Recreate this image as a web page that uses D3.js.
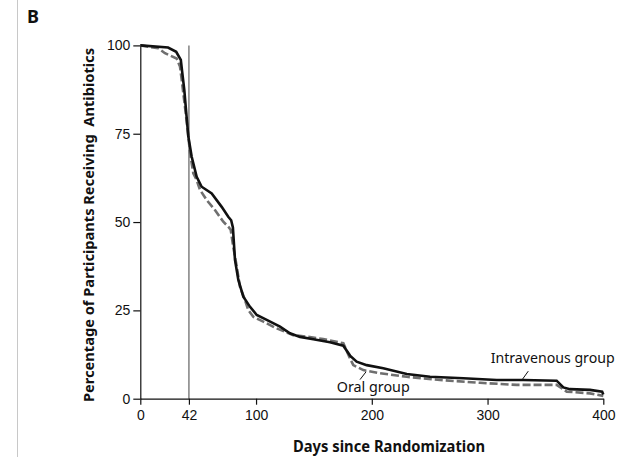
<!DOCTYPE html>
<html>
<head>
<meta charset="utf-8">
<script src="https://cdn.jsdelivr.net/npm/d3@7"></script>
<style>
  body { margin: 0; background: #fff; }
  svg { display: block; font-family: "Noto Sans", sans-serif; }
  .tick text { font-size: 14px; fill: #111; }
  .tick line, .domain { stroke: #111; }
</style>
</head>
<body>
<div id="km-chart"></div>
<script>
// Data (Kaplan-Meier style curves)
const ivDays = [0, 24, 31, 35, 36, 38, 40, 41.5, 44.4, 48.7, 53, 61.7, 70.3, 76, 78.5, 80, 81.8, 84.7, 89, 94.8, 100.6, 109.2, 120.7, 129.3, 138, 149.5, 163.9, 175.4, 181.2, 186.9, 195.6, 209.9, 230.2, 250.3, 279.1, 307.9, 330.9, 359.7, 365.5, 371.2, 388.5, 399, 400];
const ivPct = [100, 99.4, 98.2, 95.9, 93, 87.4, 79.8, 74.2, 68.5, 62.8, 60, 58.1, 54.3, 51.5, 50.5, 48.5, 39.3, 33.6, 28.9, 26, 23.7, 22.3, 20.4, 18.5, 17.5, 16.8, 16.0, 15.0, 12.2, 10.5, 9.5, 8.6, 7.0, 6.2, 5.8, 5.3, 5.3, 5.1, 3.2, 2.7, 2.5, 2.0, 1.2];

const oralDays = [0, 15.6, 21.3, 31.4, 34.3, 35.8, 38.6, 40.9, 43, 45.8, 48.7, 51.6, 57.4, 64.5, 71.7, 76, 78.1, 80.3, 83.3, 86.1, 90.5, 93.3, 97.6, 106.3, 117.8, 132.2, 145, 158, 175.4, 181.2, 184, 192.7, 207.1, 230.2, 259, 293.5, 325.2, 359.7, 368.4, 388.5, 400];
const oralPct = [100, 99.2, 97.8, 96.3, 94, 90.2, 82.6, 76.1, 69.5, 63.8, 61.9, 59.1, 56.2, 53.4, 50.1, 48.7, 47.8, 43, 37.4, 31.7, 27.9, 25.1, 23.2, 21.8, 19.9, 18.0, 17.5, 16.9, 15.7, 11.4, 9.5, 8.1, 7.2, 6.2, 5.3, 4.5, 3.9, 3.9, 2.0, 1.5, 0.8];

const xTicks = [0, 42, 100, 200, 300, 400];
const yTicks = [0, 25, 50, 75, 100];
const landmarkDay = 42;

const width = 628;
const height = 457;

const svg = d3.select("#km-chart")
    .append("svg")
    .attr("width", width)
    .attr("height", height);

// plot area in pixels
const xScale = d3.scaleLinear().domain([0, 400]).range([140.3, 603.3]);
const yScale = d3.scaleLinear().domain([0, 100]).range([398.7, 45.4]);

// light frame line on the left + panel letter
svg.append("line")
    .attr("x1", 17.5).attr("x2", 17.5)
    .attr("y1", 0).attr("y2", height)
    .attr("stroke", "#c8c8c8")
    .attr("stroke-width", 1);

svg.append("text")
    .attr("x", 27)
    .attr("y", 22.7)
    .attr("font-size", 18)
    .attr("font-weight", "bold")
    .attr("fill", "#111")
    .text("B");

// landmark line at day 42
svg.append("line")
    .attr("x1", xScale(landmarkDay)).attr("x2", xScale(landmarkDay))
    .attr("y1", yScale(0)).attr("y2", yScale(100))
    .attr("stroke", "#808080")
    .attr("stroke-width", 1.5);

// axes
svg.append("g")
    .attr("transform", `translate(0, ${yScale(0)})`)
    .call(d3.axisBottom(xScale).tickValues(xTicks).tickSize(6).tickSizeOuter(0).tickPadding(5))
    .call(g => g.selectAll("text").attr("dy", "0.75em"));

svg.append("g")
    .attr("transform", `translate(${xScale(0)}, 0)`)
    .call(d3.axisLeft(yScale).tickValues(yTicks).tickSize(7).tickSizeOuter(0).tickPadding(3));

svg.selectAll(".domain, .tick line").attr("stroke-width", 1.2);

const lineGenerator = d3.line()
    .x(d => xScale(d[0]))
    .y(d => yScale(d[1]));

const oralData = d3.zip(oralDays, oralPct);
const ivData = d3.zip(ivDays, ivPct);

svg.append("path")
    .attr("d", lineGenerator(oralData))
    .attr("fill", "none")
    .attr("stroke", "#6f6f6f")
    .attr("stroke-width", 2.6)
    .attr("stroke-dasharray", "8 3");

svg.append("path")
    .attr("d", lineGenerator(ivData))
    .attr("fill", "none")
    .attr("stroke", "#111")
    .attr("stroke-width", 2.6);

// curve labels with short leader lines
svg.append("text")
    .attr("x", xScale(302.7))
    .attr("y", yScale(10.0))
    .attr("font-size", 14.5)
    .attr("fill", "#111")
    .attr("textLength", 124)
    .attr("lengthAdjust", "spacingAndGlyphs")
    .text("Intravenous group");

svg.append("line")
    .attr("x1", xScale(329.5)).attr("y1", yScale(5.2))
    .attr("x2", xScale(335.2)).attr("y2", yScale(7.8))
    .attr("stroke", "#111").attr("stroke-width", 1);

svg.append("text")
    .attr("x", xScale(169.7))
    .attr("y", yScale(2.0))
    .attr("font-size", 14.5)
    .attr("fill", "#111")
    .attr("textLength", 73)
    .attr("lengthAdjust", "spacingAndGlyphs")
    .text("Oral group");

svg.append("line")
    .attr("x1", xScale(189.8)).attr("y1", yScale(5.4))
    .attr("x2", xScale(195)).attr("y2", yScale(7.6))
    .attr("stroke", "#111").attr("stroke-width", 1);

// axis titles
svg.append("text")
    .attr("x", 389)
    .attr("y", 451.7)
    .attr("text-anchor", "middle")
    .attr("font-size", 16)
    .attr("font-weight", "bold")
    .attr("fill", "#111")
    .attr("textLength", 192)
    .attr("lengthAdjust", "spacingAndGlyphs")
    .text("Days since Randomization");

svg.append("text")
    .attr("transform", "translate(94, 225) rotate(-90)")
    .attr("text-anchor", "middle")
    .attr("font-size", 15)
    .attr("font-weight", "bold")
    .attr("fill", "#111")
    .style("white-space", "pre")
    .attr("textLength", 354)
    .attr("lengthAdjust", "spacingAndGlyphs")
    .text("Percentage of Participants Receiving  Antibiotics");
</script>
</body>
</html>
